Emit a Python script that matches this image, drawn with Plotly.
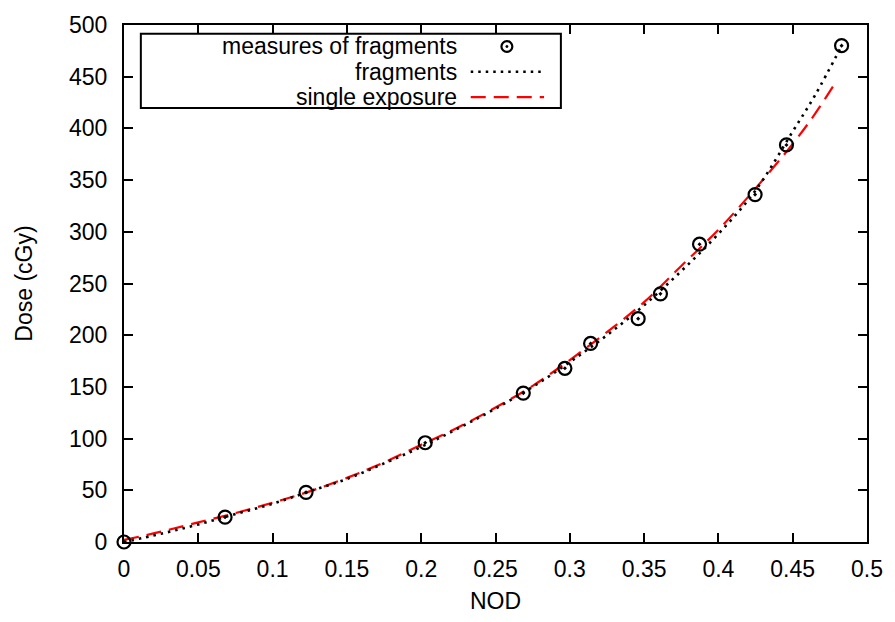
import plotly.graph_objects as go

# measured points
nod_meas = [0.0, 0.068, 0.1225, 0.2027, 0.2687, 0.2967, 0.314, 0.346, 0.361, 0.3873, 0.4247, 0.4458, 0.4829]
dose_meas = [0, 24, 48, 96, 144, 168, 192, 216, 240, 288, 336, 384, 480]

# fitted curve "fragments"
nod_frag = [0.0, 0.025, 0.05, 0.075, 0.1, 0.125, 0.15, 0.175, 0.2, 0.225, 0.25, 0.275, 0.3, 0.325, 0.35, 0.375, 0.4, 0.425, 0.45, 0.465, 0.483]
dose_frag = [0, 8, 17, 27, 37, 49, 61, 76, 92, 110, 129, 150, 174, 200, 229, 262, 298, 340, 397, 432, 480]

# fitted curve "single exposure"
nod_single = [0.0, 0.025, 0.05, 0.075, 0.1, 0.125, 0.15, 0.175, 0.2, 0.225, 0.25, 0.275, 0.3, 0.325, 0.35, 0.375, 0.4, 0.425, 0.45, 0.465, 0.48]
dose_single = [2, 10, 19, 28, 38, 49, 62, 77, 94, 111, 130, 151, 176, 203, 232, 267, 302, 342, 385, 414, 447]

x_ticks = [0, 0.05, 0.1, 0.15, 0.2, 0.25, 0.3, 0.35, 0.4, 0.45, 0.5]
x_ticklabels = ["0", "0.05", "0.1", "0.15", "0.2", "0.25", "0.3", "0.35", "0.4", "0.45", "0.5"]
y_ticks = [0, 50, 100, 150, 200, 250, 300, 350, 400, 450, 500]

legend_labels = ["measures of fragments", "fragments", "single exposure"]

FONT = "Liberation Sans, Arial, Helvetica, sans-serif"
FS = 23

fig = go.Figure()
fig.add_trace(go.Scatter(x=nod_single, y=dose_single, mode="lines",
                         line=dict(color="#ff0000", width=2.2, dash="15px,8px", shape="spline"),
                         showlegend=False, cliponaxis=False))
fig.add_trace(go.Scatter(x=nod_frag, y=dose_frag, mode="lines",
                         line=dict(color="black", width=2.6, dash="2.5px,5px", shape="spline"),
                         showlegend=False, cliponaxis=False))
fig.add_trace(go.Scatter(x=nod_meas, y=dose_meas, mode="markers",
                         marker=dict(symbol="circle-open-dot", size=13, color="black",
                                     line=dict(width=2.2, color="black")),
                         showlegend=False, cliponaxis=False))

# custom gnuplot-like legend (paper coordinates)
W, H = 895, 622
L, R, T, B = 124, 21, 16, 76
pw, ph = W - L - R, H - T - B

def px(xp):
    return (xp - L) / pw

def py(yp):
    return 1 - (yp - T) / ph

fig.add_shape(type="rect", xref="paper", yref="paper",
              x0=px(141), x1=px(565), y0=py(25), y1=py(101),
              line=dict(color="black", width=2), fillcolor="white", layer="above")
rows = [38, 64, 90]
for lab, yy in zip(legend_labels, rows):
    fig.add_annotation(xref="paper", yref="paper", x=px(462), y=py(yy), text=lab,
                       showarrow=False, xanchor="right", yanchor="middle",
                       font=dict(family=FONT, size=FS, color="black"))
fig.add_shape(type="line", xref="paper", yref="paper", x0=px(474), x1=px(548),
              y0=py(rows[1]), y1=py(rows[1]),
              line=dict(color="black", width=2.6, dash="2.5px,5px"))
fig.add_shape(type="line", xref="paper", yref="paper", x0=px(474), x1=px(548),
              y0=py(rows[2]), y1=py(rows[2]),
              line=dict(color="#ff0000", width=2.2, dash="15px,8px"))
fig.add_shape(type="circle", xref="paper", yref="paper",
              x0=px(505), x1=px(516), y0=py(rows[0] - 5.5), y1=py(rows[0] + 5.5),
              line=dict(color="black", width=2.2))
fig.add_shape(type="circle", xref="paper", yref="paper",
              x0=px(509.3), x1=px(511.7), y0=py(rows[0] - 1.2), y1=py(rows[0] + 1.2),
              line=dict(color="black", width=0.5), fillcolor="black")

axis_common = dict(showgrid=False, zeroline=False, showline=True, linecolor="black",
                   linewidth=2, mirror="ticks", ticks="inside", ticklen=9, tickwidth=1.5,
                   tickcolor="black", tickfont=dict(family=FONT, size=FS, color="black"))

fig.update_layout(
    width=W, height=H,
    margin=dict(l=L, r=R, t=T, b=B),
    plot_bgcolor="white", paper_bgcolor="white",
    font=dict(family=FONT, size=FS, color="black"),
    xaxis=dict(range=[0, 0.5], tickvals=x_ticks, ticktext=x_ticklabels,
               title=dict(text="NOD", font=dict(family=FONT, size=FS), standoff=12),
               ticklabelstandoff=5, **axis_common),
    yaxis=dict(range=[0, 500], tickvals=y_ticks,
               title=dict(text="Dose (cGy)", font=dict(family=FONT, size=FS), standoff=30),
               ticklabelstandoff=10, **axis_common),
)

fig.write_html("out.html", config={"displayModeBar": False},
               post_script="document.body.style.margin='0';document.body.style.padding='0';")
